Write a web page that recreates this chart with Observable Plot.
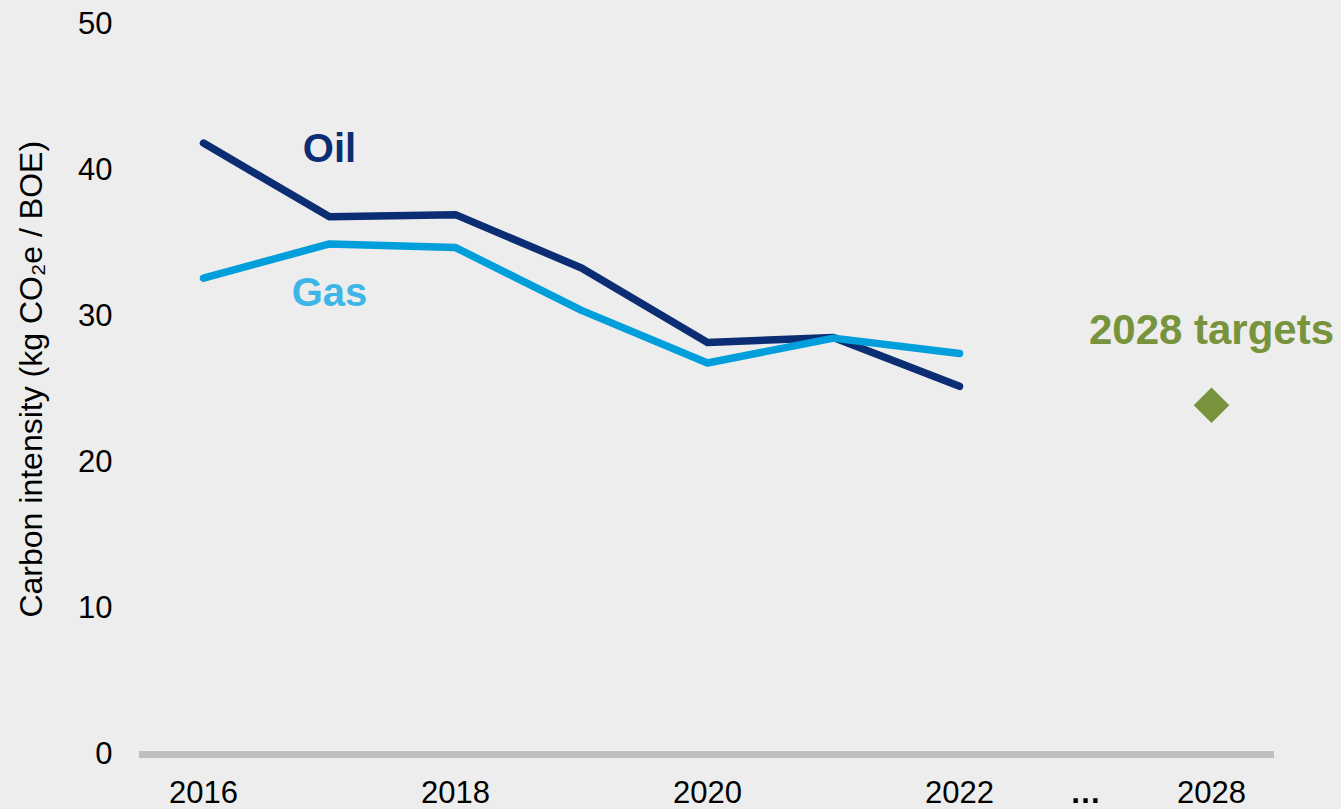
<!DOCTYPE html>
<html><head><meta charset="utf-8">
<script src="https://cdn.jsdelivr.net/npm/d3@7"></script>
<script src="https://cdn.jsdelivr.net/npm/@observablehq/plot@0.6"></script>
<style>
html,body{margin:0;padding:0;background:#ededed;}
#chart svg{display:block}
</style></head><body><div id="chart"></div>
<script>
const years = ["2016","2017","2018","2019","2020","2021","2022"];
const oilValues = [41.85, 36.8, 36.95, 33.3, 28.2, 28.55, 25.2];
const gasValues = [32.6, 34.95, 34.7, 30.4, 26.8, 28.5, 27.45];
const targetYears = ["2028"];
const targetValues = [23.9];
const xCategories = ["2016","2017","2018","2019","2020","2021","2022","…","2028"];
const xTickLabels = ["2016","2018","2020","2022","…","2028"];
const yTicks = [0, 10, 20, 30, 40, 50];
const labelTexts = ["Oil", "Gas", "2028 targets"];
const labelYears = ["2017", "2017", "2028"];
const labelValues = [41.4, 31.55, 29.0];
const labelColors = ["#0b2d73", "#3db5e6", "#77933c"];

const oilData = years.map((y, i) => ({year: y, value: oilValues[i]}));
const gasData = years.map((y, i) => ({year: y, value: gasValues[i]}));
const targetData = targetYears.map((y, i) => ({year: y, value: targetValues[i]}));
const labelData = labelTexts.map((t, i) => ({text: t, year: labelYears[i], value: labelValues[i], color: labelColors[i]}));

const chart = Plot.plot({
  width: 1341, height: 809,
  marginLeft: 139, marginRight: 67, marginTop: 23.5, marginBottom: 55,
  style: {background: "#ededed", fontFamily: "'Liberation Sans', Arial, sans-serif", fontSize: "31px", color: "#000", overflow: "visible"},
  x: {type: "point", domain: xCategories, padding: 0.5},
  y: {domain: [0, 50]},
  marks: [
    Plot.ruleY([0], {stroke: "#bfbfbf", strokeWidth: 7}),
    Plot.axisY({ticks: yTicks, tickSize: 0, tickPadding: 27, label: "Carbon intensity (kg CO₂e / BOE)", labelAnchor: "center", labelOffset: 120, labelArrow: "none", fontSize: 31}),
    Plot.axisX({ticks: xTickLabels, tickSize: 0, tickPadding: 26, label: null, fontSize: 31}),
    Plot.line(oilData, {x: "year", y: "value", stroke: "#0b2d73", strokeWidth: 7.5, strokeLinecap: "round", strokeLinejoin: "round"}),
    Plot.line(gasData, {x: "year", y: "value", stroke: "#009fdb", strokeWidth: 7.5, strokeLinecap: "round", strokeLinejoin: "round"}),
    Plot.dot(targetData, {x: "year", y: "value", symbol: "diamond2", r: 16, fill: "#77933c", stroke: null}),
    Plot.text(labelData, {x: "year", y: "value", text: "text", fill: "color", fontWeight: "bold", fontSize: (d) => d.text.length > 5 ? 42 : 40})
  ]
});
document.getElementById("chart").appendChild(chart);
d3.select(chart).selectAll("text").filter(function(){ return this.textContent === "…"; }).attr("font-weight", "bold");
d3.select(chart).selectAll("text").filter(function(){ return this.textContent.startsWith("Carbon"); })
  .attr("font-size", 32)
  .attr("transform", function(){ return (this.getAttribute("transform") || "") + " translate(10,0)"; });
</script></body></html>
